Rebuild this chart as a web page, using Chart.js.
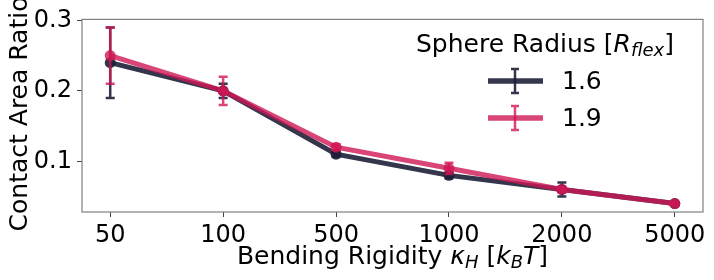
<!DOCTYPE html>
<html>
<head>
<meta charset="utf-8">
<script src="https://cdn.jsdelivr.net/npm/chart.js@4"></script>
<style>
  html, body { margin: 0; padding: 0; background: #fff; }
  #wrap { width: 714px; height: 280px; }
</style>
</head>
<body>
<div id="wrap"><canvas id="chart" width="714" height="280"></canvas></div>
<script>
"use strict";
const rigidityLabels = ["50", "100", "500", "1000", "2000", "5000"];
const ratio16 = [0.24, 0.2, 0.11, 0.08, 0.06, 0.04];
const err16 = [0.05, 0.01, 0.004, 0.004, 0.01, 0.002];
const ratio19 = [0.25, 0.2, 0.12, 0.09, 0.06, 0.04];
const err19 = [0.04, 0.02, 0.004, 0.008, 0.004, 0.002];
const yTicks = [0.1, 0.2, 0.3];
const seriesNames = ["1.6", "1.9"];

const FONT = "'DejaVu Sans', sans-serif";
const darkCol = "rgba(30, 32, 56, 0.9)";
const pinkCol = "rgba(207, 22, 85, 0.8)";

const toPoints = (arr) => arr.map((v, i) => ({ x: i, y: v }));

// error bars drawn with the chart's own scales
const errorBars = {
  id: "errorBars",
  afterDatasetDraw(chart, args) {
    const ds = chart.data.datasets[args.index];
    const errs = ds.errors;
    if (!errs) return;
    const xs = chart.scales.x, ys = chart.scales.y;
    const ctx = chart.ctx;
    ctx.save();
    ctx.strokeStyle = ds.borderColor;
    ctx.lineWidth = 2.5;
    ds.data.forEach((p, i) => {
      const px = xs.getPixelForValue(p.x);
      const top = ys.getPixelForValue(p.y + errs[i]);
      const bot = ys.getPixelForValue(p.y - errs[i]);
      ctx.beginPath();
      ctx.moveTo(px, top); ctx.lineTo(px, bot);
      ctx.moveTo(px - 4.5, top); ctx.lineTo(px + 4.5, top);
      ctx.moveTo(px - 4.5, bot); ctx.lineTo(px + 4.5, bot);
      ctx.stroke();
    });
    ctx.restore();
  },
};

// frame, axis titles and legend
const decorations = {
  id: "decorations",
  afterDraw(chart) {
    const ctx = chart.ctx;
    const a = chart.chartArea;
    ctx.save();
    ctx.strokeStyle = "#808080";
    ctx.lineWidth = 1.2;
    ctx.strokeRect(a.left, a.top, a.right - a.left, a.bottom - a.top);

    ctx.fillStyle = "#000";
    // x title with sub/italics
    const parts = [
      { t: "Bending Rigidity ", f: "25px " + FONT, dy: 0 },
      { t: "κ", f: "italic 25px " + FONT, dy: 0 },
      { t: "H", f: "italic 18px " + FONT, dy: 4 },
      { t: " [", f: "25px " + FONT, dy: 0 },
      { t: "k", f: "italic 25px " + FONT, dy: 0 },
      { t: "B", f: "italic 18px " + FONT, dy: 4 },
      { t: "T", f: "italic 25px " + FONT, dy: 0 },
      { t: "]", f: "25px " + FONT, dy: 0 },
    ];
    let w = 0;
    parts.forEach((p) => { ctx.font = p.f; w += ctx.measureText(p.t).width; });
    let x = (a.left + a.right) / 2 - w / 2;
    ctx.textBaseline = "alphabetic";
    ctx.textAlign = "left";
    parts.forEach((p) => {
      ctx.font = p.f;
      ctx.fillText(p.t, x, 264 + p.dy);
      x += ctx.measureText(p.t).width;
    });

    // y title
    ctx.save();
    ctx.translate(27, 114);
    ctx.rotate(-Math.PI / 2);
    ctx.font = "25px " + FONT;
    ctx.textAlign = "center";
    ctx.fillText("Contact Area Ratio", 0, 0);
    ctx.restore();

    // legend
    const lt = [
      { t: "Sphere Radius [", f: "25px " + FONT, dy: 0 },
      { t: "R", f: "italic 25px " + FONT, dy: 0 },
      { t: "flex", f: "italic 18px " + FONT, dy: 4 },
      { t: "]", f: "25px " + FONT, dy: 0 },
    ];
    w = 0;
    lt.forEach((p) => { ctx.font = p.f; w += ctx.measureText(p.t).width; });
    x = 545 - w / 2;
    lt.forEach((p) => {
      ctx.font = p.f;
      ctx.fillText(p.t, x, 52 + p.dy);
      x += ctx.measureText(p.t).width;
    });
    const cols = [darkCol, pinkCol];
    seriesNames.forEach((name, i) => {
      const cy = 81 + i * 37;
      ctx.strokeStyle = cols[i];
      ctx.lineWidth = 5.5;
      ctx.beginPath();
      ctx.moveTo(488, cy); ctx.lineTo(543, cy);
      ctx.stroke();
      ctx.lineWidth = 2.5;
      ctx.beginPath();
      ctx.moveTo(515, cy - 12); ctx.lineTo(515, cy + 12);
      ctx.moveTo(511, cy - 12); ctx.lineTo(519, cy - 12);
      ctx.moveTo(511, cy + 12); ctx.lineTo(519, cy + 12);
      ctx.stroke();
      ctx.font = "25px " + FONT;
      ctx.fillStyle = "#000";
      ctx.textBaseline = "middle";
      ctx.fillText(name, 562, cy + 1);
    });
    ctx.restore();
  },
};

const chart = new Chart(document.querySelector("#chart"), {
  type: "line",
  data: {
    datasets: [
      {
        label: seriesNames[0],
        data: toPoints(ratio16),
        errors: err16,
        order: 2,
        borderColor: darkCol,
        backgroundColor: darkCol,
        borderWidth: 5,
        pointRadius: 5.5,
        pointBorderWidth: 0,
        tension: 0,
      },
      {
        label: seriesNames[1],
        data: toPoints(ratio19),
        errors: err19,
        order: 1,
        borderColor: pinkCol,
        backgroundColor: pinkCol,
        borderWidth: 5,
        pointRadius: 5.5,
        pointBorderWidth: 0,
        tension: 0,
      },
    ],
  },
  options: {
    responsive: false,
    animation: false,
    layout: { padding: { top: 15, right: 11, left: 0, bottom: 0 } },
    plugins: { legend: { display: false }, tooltip: { enabled: false } },
    scales: {
      x: {
        type: "linear",
        min: -0.25,
        max: 5.25,
        afterBuildTicks: (s) => { s.ticks = rigidityLabels.map((_, i) => ({ value: i })); },
        afterFit: (s) => { s.height = 68; },
        ticks: {
          callback: (v) => rigidityLabels[v],
          color: "#000",
          font: { family: "DejaVu Sans", size: 24 },
          padding: 4,
          maxRotation: 0,
          autoSkip: false,
        },
        grid: { drawOnChartArea: false, drawTicks: true, tickLength: 5, color: "#444" },
        border: { display: false },
      },
      y: {
        min: 0.028,
        max: 0.3014,
        afterBuildTicks: (s) => { s.ticks = yTicks.map((v) => ({ value: v })); },
        afterFit: (s) => { s.width = 82; },
        ticks: {
          callback: (v) => v.toFixed(1),
          color: "#000",
          font: { family: "DejaVu Sans", size: 24 },
          padding: 5,
        },
        grid: { drawOnChartArea: false, drawTicks: true, tickLength: 5, color: "#444" },
        border: { display: false },
      },
    },
  },
  plugins: [errorBars, decorations],
});
</script>
</body>
</html>
